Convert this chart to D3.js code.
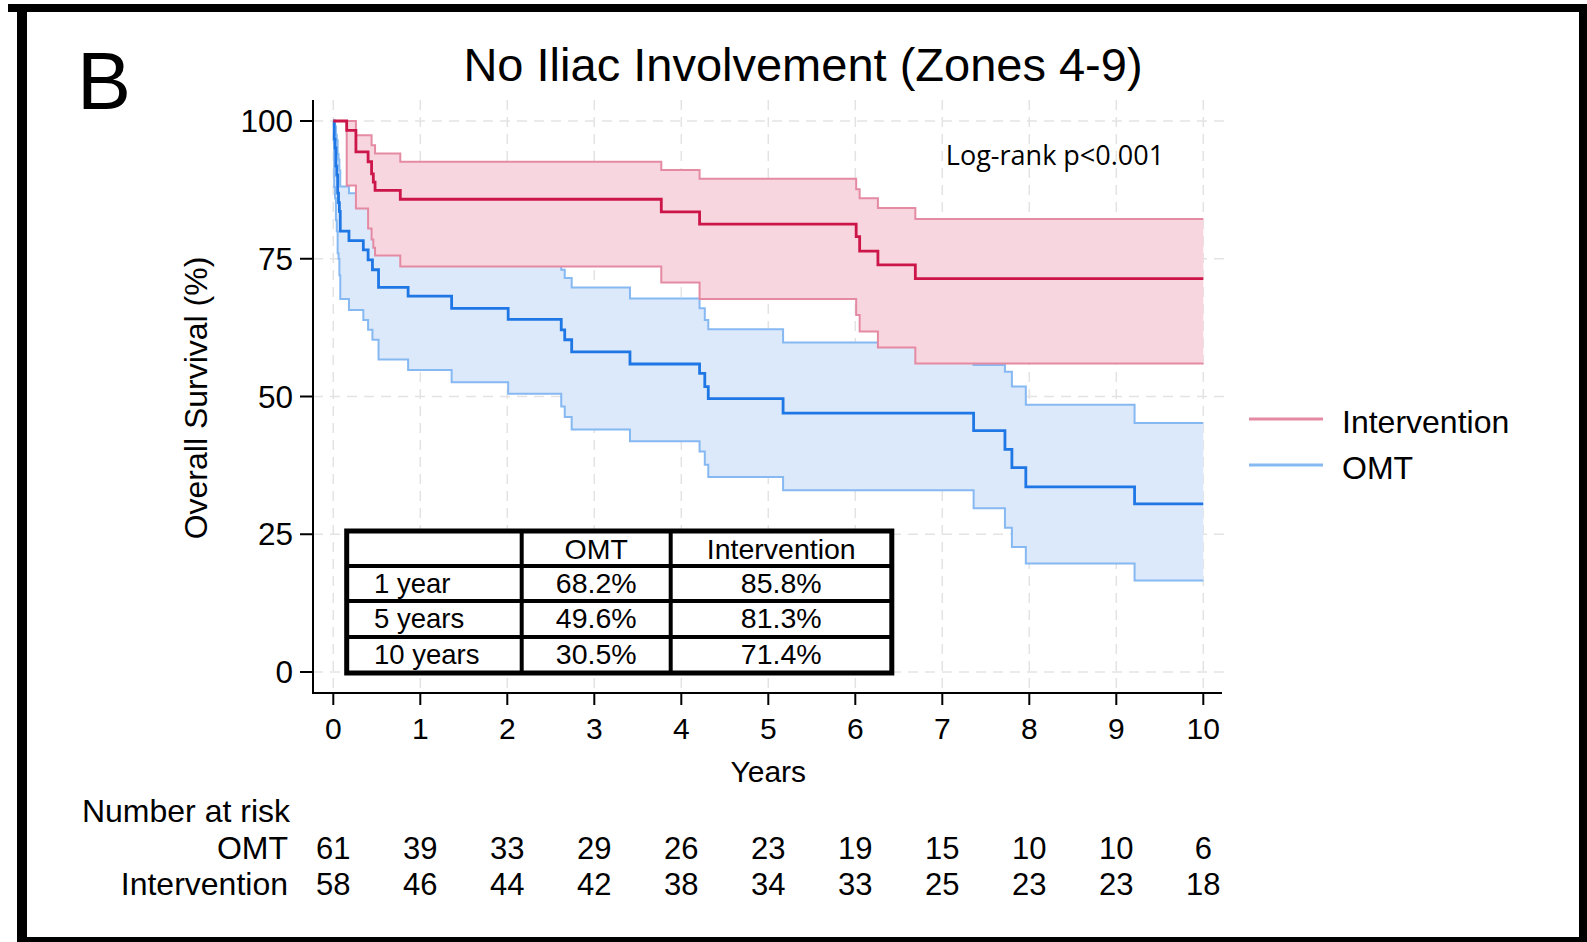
<!DOCTYPE html>
<html>
<head>
<meta charset="utf-8">
<script src="https://cdn.jsdelivr.net/npm/d3@7"></script>
<style>
  body { margin: 0; background: #fff; }
  text { font-family: 'Liberation Sans', Arial, Helvetica, sans-serif; fill: #000; }
  .pval { font-family: 'Open Sans', 'Noto Sans', sans-serif; }
</style>
</head>
<body>
<div id="chart"></div>
<script>
// years on the x axis + number at risk
const yearTicks = [0, 1, 2, 3, 4, 5, 6, 7, 8, 9, 10]
const survTicks = [0, 25, 50, 75, 100]
const riskOMT = [61, 39, 33, 29, 26, 23, 19, 15, 10, 10, 6]
const riskInt = [58, 46, 44, 42, 38, 34, 33, 25, 23, 23, 18]

// Kaplan-Meier steps, Intervention
const intTime = [0, 0.154, 0.26, 0.40, 0.44, 0.46, 0.48, 0.77, 3.77, 4.21, 6.01, 6.05, 6.26, 6.69]
const intSurv = [100, 98.3, 94.4, 92.6, 90.4, 88.9, 87.4, 85.8, 83.5, 81.3, 79.0, 76.4, 73.9, 71.4]
const intUpper = [100, 100, 97.4, 97.4, 95.6, 95.6, 94.1, 92.6, 91.1, 89.5, 87.6, 86.0, 84.2, 82.2]
const intLower = [100, 88.3, 84.1, 80.5, 78.5, 77.0, 75.6, 73.6, 70.7, 67.7, 64.8, 61.8, 58.9, 56.0]

// Kaplan-Meier steps, OMT
const omtTime = [0, 0.01, 0.02, 0.03, 0.04, 0.05, 0.06, 0.07, 0.08, 0.18, 0.345, 0.40, 0.45, 0.52, 0.86, 1.36, 2.01, 2.62, 2.66, 2.74, 3.41, 4.21, 4.27, 4.31, 5.17, 7.36, 7.72, 7.80, 7.96, 9.21]
const omtSurv = [100, 96.7, 95.1, 91.8, 90.2, 86.9, 85.2, 83.6, 80.0, 78.3, 76.6, 74.8, 73.0, 69.8, 68.2, 66.0, 64.0, 62.1, 60.3, 58.1, 55.9, 54.2, 51.8, 49.6, 47.0, 43.8, 40.4, 37.1, 33.6, 30.5]
const omtUpper = [100, 99.5, 99.0, 97.5, 96.5, 94.0, 93.0, 91.0, 88.1, 86.9, 85.5, 84.0, 82.5, 79.6, 78.0, 76.3, 74.5, 73.0, 71.5, 69.8, 67.8, 66.0, 63.9, 62.2, 59.8, 55.7, 54.5, 51.8, 48.5, 45.2]
const omtLower = [100, 88.0, 86.0, 82.0, 80.0, 76.0, 75.0, 72.0, 67.7, 65.7, 63.9, 62.1, 60.3, 56.7, 54.8, 52.6, 50.5, 48.2, 46.3, 44.0, 41.9, 40.0, 37.6, 35.4, 33.0, 29.7, 26.2, 22.7, 19.7, 16.6]

// survival summary table
const tableHeader = ['', 'OMT', 'Intervention']
const tableRows = ['1 year', '5 years', '10 years']
const tableOMT = ['68.2%', '49.6%', '30.5%']
const tableInt = ['85.8%', '81.3%', '71.4%']

const colors = {
  intLine: '#cc1548',
  intCI: '#e58aa3',
  intFill: '#f8d6e0',
  omtLine: '#1f77e6',
  omtCI: '#86b8f2',
  omtFill: '#dbe9fb',
  grid: '#e3e3e3'
}

const W = 1587
const H = 942

const svg = d3.select('#chart').append('svg')
  .attr('width', W)
  .attr('height', H)

svg.append('rect').attr('width', W).attr('height', H).attr('fill', '#fff')

const x = d3.scaleLinear().domain([0, 10]).range([333.3, 1203.3])
const y = d3.scaleLinear().domain([0, 100]).range([672, 121])

const axisX = 313
const axisY = 693
const plotTop = 100
const plotRight = 1224

// GRID
const grid = svg.append('g')
grid.selectAll('.vgrid').data(yearTicks).enter().append('line')
  .attr('x1', (d) => x(d)).attr('x2', (d) => x(d))
  .attr('y1', plotTop).attr('y2', axisY)
  .attr('stroke', colors.grid).attr('stroke-width', 1.5)
  .attr('stroke-dasharray', '10,7')
grid.selectAll('.hgrid').data(survTicks).enter().append('line')
  .attr('x1', axisX).attr('x2', plotRight)
  .attr('y1', (d) => y(d)).attr('y2', (d) => y(d))
  .attr('stroke', colors.grid).attr('stroke-width', 1.5)
  .attr('stroke-dasharray', '10,7')

// build step series, extended to 10 years
function steps (time, vals) {
  const pts = time.map((t, i) => ({ t, v: vals[i] }))
  pts.push({ t: 10, v: vals[vals.length - 1] })
  return pts
}
function band (time, lo, hi) {
  const pts = time.map((t, i) => ({ t, lo: lo[i], hi: hi[i] }))
  pts.push({ t: 10, lo: lo[lo.length - 1], hi: hi[hi.length - 1] })
  return pts
}

const line = d3.line()
  .x((d) => x(d.t))
  .y((d) => y(d.v))
  .curve(d3.curveStepAfter)

const area = d3.area()
  .x((d) => x(d.t))
  .y0((d) => y(d.lo))
  .y1((d) => y(d.hi))
  .curve(d3.curveStepAfter)

const curves = svg.append('g')

// OMT confidence band
curves.append('path').datum(band(omtTime, omtLower, omtUpper))
  .attr('d', area).attr('fill', colors.omtFill)
curves.append('path').datum(steps(omtTime, omtUpper))
  .attr('d', line).attr('fill', 'none').attr('stroke', colors.omtCI).attr('stroke-width', 2)
curves.append('path').datum(steps(omtTime, omtLower))
  .attr('d', line).attr('fill', 'none').attr('stroke', colors.omtCI).attr('stroke-width', 2)

// Intervention confidence band (drawn over the blue one)
curves.append('path').datum(band(intTime, intLower, intUpper))
  .attr('d', area).attr('fill', colors.intFill)
curves.append('path').datum(steps(intTime, intUpper))
  .attr('d', line).attr('fill', 'none').attr('stroke', colors.intCI).attr('stroke-width', 2)
curves.append('path').datum(steps(intTime, intLower))
  .attr('d', line).attr('fill', 'none').attr('stroke', colors.intCI).attr('stroke-width', 2)

// survival estimates
curves.append('path').datum(steps(omtTime, omtSurv))
  .attr('d', line).attr('fill', 'none').attr('stroke', colors.omtLine).attr('stroke-width', 2.8)
curves.append('path').datum(steps(intTime, intSurv))
  .attr('d', line).attr('fill', 'none').attr('stroke', colors.intLine).attr('stroke-width', 2.8)

// AXES
const axes = svg.append('g').attr('stroke', '#000').attr('stroke-width', 2)
axes.append('line').attr('x1', axisX).attr('x2', axisX).attr('y1', plotTop).attr('y2', axisY + 1)
axes.append('line').attr('x1', axisX - 1).attr('x2', plotRight - 2).attr('y1', axisY).attr('y2', axisY)

axes.selectAll('.ytick').data(survTicks).enter().append('line')
  .attr('x1', axisX - 13).attr('x2', axisX)
  .attr('y1', (d) => y(d)).attr('y2', (d) => y(d))
axes.selectAll('.xtick').data(yearTicks).enter().append('line')
  .attr('x1', (d) => x(d)).attr('x2', (d) => x(d))
  .attr('y1', axisY).attr('y2', axisY + 12)

svg.selectAll('.ylabel').data(survTicks).enter().append('text')
  .attr('x', 293).attr('y', (d) => y(d) + 11)
  .attr('text-anchor', 'end').attr('font-size', 31.5)
  .text((d) => d)

svg.selectAll('.xlabel').data(yearTicks).enter().append('text')
  .attr('x', (d) => x(d)).attr('y', 739)
  .attr('text-anchor', 'middle').attr('font-size', 30)
  .text((d) => d)

svg.append('text')
  .attr('x', x(5)).attr('y', 782)
  .attr('text-anchor', 'middle').attr('font-size', 30)
  .text('Years')

svg.append('text')
  .attr('transform', 'translate(207, 398) rotate(-90)')
  .attr('text-anchor', 'middle').attr('font-size', 32)
  .text('Overall Survival (%)')

// TITLES
svg.append('text')
  .attr('x', 803).attr('y', 81)
  .attr('text-anchor', 'middle').attr('font-size', 47)
  .text('No Iliac Involvement (Zones 4-9)')

svg.append('text')
  .attr('x', 77).attr('y', 109)
  .attr('font-size', 81)
  .text('B')

svg.append('text')
  .attr('class', 'pval')
  .attr('x', 1055).attr('y', 165)
  .attr('text-anchor', 'middle').attr('font-size', 27)
  .text('Log-rank p<0.001')

// LEGEND
const legend = svg.append('g')
const legendItems = [
  { label: 'Intervention', color: colors.intCI, yy: 419 },
  { label: 'OMT', color: colors.omtCI, yy: 465 }
]
legend.selectAll('line').data(legendItems).enter().append('line')
  .attr('x1', 1249).attr('x2', 1323)
  .attr('y1', (d) => d.yy).attr('y2', (d) => d.yy)
  .attr('stroke', (d) => d.color).attr('stroke-width', 3)
legend.selectAll('text').data(legendItems).enter().append('text')
  .attr('x', 1342).attr('y', (d) => d.yy + 14)
  .attr('font-size', 32)
  .text((d) => d.label)

// SUMMARY TABLE
const colX = [346.7, 521.7, 670.7, 891.8]
const rowY = [531, 566, 601, 637, 673]
const table = svg.append('g')

table.append('rect')
  .attr('x', colX[0]).attr('y', rowY[0])
  .attr('width', colX[3] - colX[0]).attr('height', rowY[4] - rowY[0])
  .attr('fill', '#fff').attr('stroke', '#000').attr('stroke-width', 5)

table.selectAll('.rowline').data(rowY.slice(1, 4)).enter().append('line')
  .attr('x1', colX[0]).attr('x2', colX[3])
  .attr('y1', (d) => d).attr('y2', (d) => d)
  .attr('stroke', '#000').attr('stroke-width', 4)
table.selectAll('.colline').data(colX.slice(1, 3)).enter().append('line')
  .attr('x1', (d) => d).attr('x2', (d) => d)
  .attr('y1', rowY[0]).attr('y2', rowY[4])
  .attr('stroke', '#000').attr('stroke-width', 4)

const colMid = (i) => (colX[i] + colX[i + 1]) / 2

table.selectAll('.head').data(tableHeader).enter().append('text')
  .attr('x', (d, i) => colMid(i)).attr('y', rowY[0] + 28)
  .attr('text-anchor', 'middle').attr('font-size', 28.5)
  .text((d) => d)

table.selectAll('.rowlabel').data(tableRows).enter().append('text')
  .attr('x', 374).attr('y', (d, i) => rowY[i + 1] + 27)
  .attr('font-size', 27.5)
  .text((d) => d)

table.selectAll('.omtval').data(tableOMT).enter().append('text')
  .attr('x', colMid(1)).attr('y', (d, i) => rowY[i + 1] + 27)
  .attr('text-anchor', 'middle').attr('font-size', 28.5)
  .text((d) => d)

table.selectAll('.intval').data(tableInt).enter().append('text')
  .attr('x', colMid(2)).attr('y', (d, i) => rowY[i + 1] + 27)
  .attr('text-anchor', 'middle').attr('font-size', 28.5)
  .text((d) => d)

// NUMBER AT RISK
const risk = svg.append('g')
risk.append('text')
  .attr('x', 290).attr('y', 822)
  .attr('text-anchor', 'end').attr('font-size', 32)
  .text('Number at risk')

const riskRows = [
  { label: 'OMT', values: riskOMT, yy: 859 },
  { label: 'Intervention', values: riskInt, yy: 895 }
]
riskRows.forEach((r) => {
  risk.append('text')
    .attr('x', 288).attr('y', r.yy)
    .attr('text-anchor', 'end').attr('font-size', 32)
    .text(r.label)
  risk.selectAll(null).data(r.values).enter().append('text')
    .attr('x', (d, i) => x(yearTicks[i])).attr('y', r.yy)
    .attr('text-anchor', 'middle').attr('font-size', 31)
    .text((d) => d)
})

// FRAME
const frame = svg.append('g').attr('fill', '#000')
frame.append('rect').attr('x', 8).attr('y', 4).attr('width', W - 8).attr('height', 8)
frame.append('rect').attr('x', 17).attr('y', 4).attr('width', 10).attr('height', H - 4)
frame.append('rect').attr('x', 1579).attr('y', 4).attr('width', 8).attr('height', H - 4)
frame.append('rect').attr('x', 17).attr('y', 937).attr('width', W - 17).attr('height', 5)
</script>
</body>
</html>
